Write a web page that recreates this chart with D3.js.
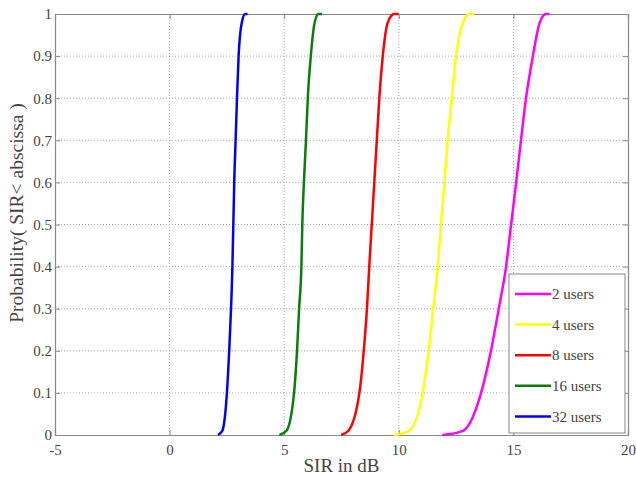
<!DOCTYPE html>
<html>
<head>
<meta charset="utf-8">
<script src="https://cdn.jsdelivr.net/npm/d3@7"></script>
<style>
    body { margin: 0; background: #fff; }
    svg text { font-family: "Liberation Serif", "DejaVu Serif", serif; fill: #444; }
</style>
</head>
<body>
<div id="chart"></div>
<script>
"use strict";

// probability levels shared by all curves, and the SIR (dB) where each curve hits them
const probLevels = [0, 0.01, 0.1, 0.2, 0.3, 0.4, 0.5, 0.6, 0.7, 0.8, 0.9, 0.98, 1, 1];
const sir2 = [11.9, 12.8, 13.59, 14.02, 14.36, 14.68, 14.90, 15.12, 15.33, 15.55, 15.85, 16.15, 16.42, 16.57];
const sir4 = [9.8, 10.45, 11.04, 11.30, 11.50, 11.70, 11.84, 11.99, 12.13, 12.31, 12.50, 12.8, 13.08, 13.3];
const sir8 = [7.48, 7.8, 8.28, 8.47, 8.61, 8.71, 8.82, 8.93, 9.04, 9.15, 9.30, 9.52, 9.8, 10.0];
const sir16 = [4.79, 5.1, 5.43, 5.56, 5.65, 5.75, 5.79, 5.86, 5.95, 6.03, 6.16, 6.33, 6.5, 6.65];
const sir32 = [2.11, 2.3, 2.5, 2.6, 2.68, 2.74, 2.78, 2.82, 2.88, 2.94, 3.01, 3.15, 3.3, 3.4];

const seriesNames = ["2 users", "4 users", "8 users", "16 users", "32 users"];
const seriesValues = [sir2, sir4, sir8, sir16, sir32];
const seriesColors = ["#ff00ff", "#ffff00", "#ff0000", "#0a7d0a", "#0000ff"];

const xTicks = [-5, 0, 5, 10, 15, 20];
const yTicks = [0, 0.1, 0.2, 0.3, 0.4, 0.5, 0.6, 0.7, 0.8, 0.9, 1];

const width = 636;
const height = 477;
const margin = { top: 14, right: 8, bottom: 42, left: 55 };

const svg = d3.select("#chart").append("svg")
    .attr("width", width)
    .attr("height", height);

const x = d3.scaleLinear().domain([-5, 20]).range([margin.left, width - margin.right]);
const y = d3.scaleLinear().domain([0, 1]).range([height - margin.bottom, margin.top]);

// grid
svg.append("g").selectAll("line").data(xTicks.slice(1, -1)).enter().append("line")
    .attr("x1", d => x(d)).attr("x2", d => x(d))
    .attr("y1", y(0)).attr("y2", y(1))
    .attr("stroke", "#aaa").attr("stroke-dasharray", "1,2");
svg.append("g").selectAll("line").data(yTicks.slice(1, -1)).enter().append("line")
    .attr("x1", x(-5)).attr("x2", x(20))
    .attr("y1", d => y(d)).attr("y2", d => y(d))
    .attr("stroke", "#aaa").attr("stroke-dasharray", "1,2");

// axes (ticks inside, like matlab)
svg.append("g")
    .attr("transform", `translate(0,${y(0)})`)
    .call(d3.axisBottom(x).tickValues(xTicks).tickSize(-5).tickPadding(9).tickFormat(d => String(d)));
svg.append("g")
    .attr("transform", `translate(${x(-5)},0)`)
    .call(d3.axisLeft(y).tickValues(yTicks).tickSize(-5).tickPadding(3).tickFormat(d => d === 0 || d === 1 ? d : d3.format(".1f")(d)));
svg.append("g")
    .attr("transform", `translate(0,${y(1)})`)
    .call(d3.axisTop(x).tickValues(xTicks).tickSize(-5).tickFormat(""));
svg.append("g")
    .attr("transform", `translate(${x(20)},0)`)
    .call(d3.axisRight(y).tickValues(yTicks).tickSize(-5).tickFormat(""));

svg.selectAll(".domain").attr("stroke", "#888").attr("stroke-width", 1.2);
svg.selectAll(".tick line").attr("stroke", "#888");
svg.selectAll(".tick text").style("font-size", "15px").attr("fill", "#444");

// curves
const line = d3.line()
    .x(d => x(d[0]))
    .y(d => y(d[1]))
    .curve(d3.curveMonotoneX);

seriesValues.forEach(function (vals, i) {
    const pts = vals.map((v, j) => [v, probLevels[j]]);
    svg.append("path")
        .datum(pts)
        .attr("d", line)
        .attr("fill", "none")
        .attr("stroke", seriesColors[i])
        .attr("stroke-width", 2.5);
});

// legend
const lg = svg.append("g");
lg.append("rect")
    .attr("x", 509).attr("y", 274)
    .attr("width", 116).attr("height", 159)
    .attr("fill", "#fff").attr("stroke", "#999").attr("stroke-width", 1.2);
seriesNames.forEach(function (name, i) {
    const ly = 294 + i * 30.6;
    lg.append("line")
        .attr("x1", 515).attr("x2", 551)
        .attr("y1", ly).attr("y2", ly)
        .attr("stroke", seriesColors[i]).attr("stroke-width", 2.5);
    lg.append("text")
        .attr("x", 552).attr("y", ly)
        .attr("dy", "0.35em")
        .style("font-size", "15px")
        .text(name);
});

// axis labels
svg.append("text")
    .attr("x", x(7.5)).attr("y", 472)
    .attr("text-anchor", "middle")
    .style("font-size", "19px")
    .text("SIR in dB");
svg.append("text")
    .attr("transform", `translate(23,213) rotate(-90)`)
    .attr("text-anchor", "middle")
    .style("font-size", "19.5px")
    .text("Probability( SIR< abscissa )");
</script>
</body>
</html>
